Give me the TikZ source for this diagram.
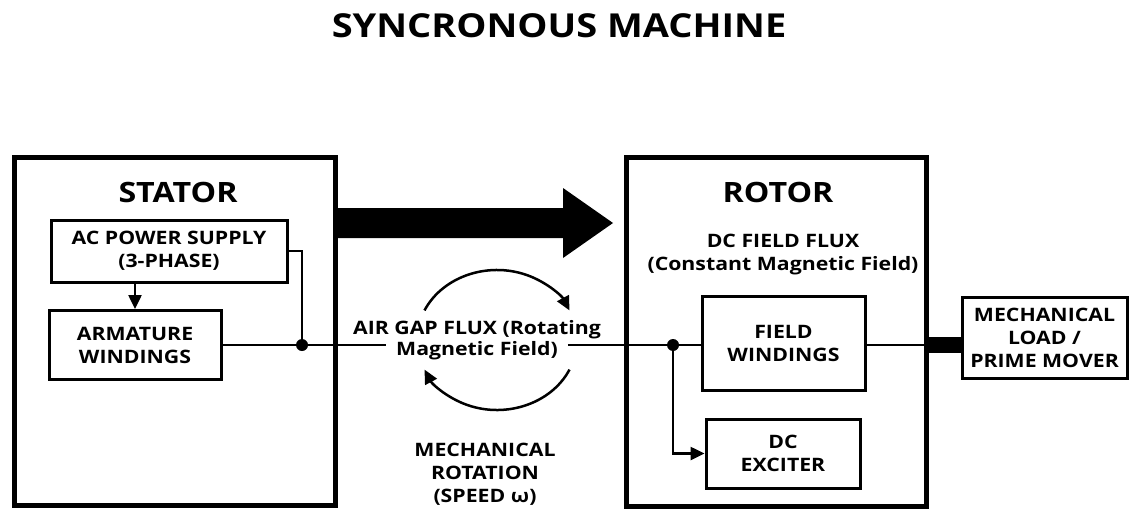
\documentclass[tikz,border=0pt]{standalone}
\usepackage{fontspec}
\setmainfont[FakeStretch=1.15]{Open Sans}
\usetikzlibrary{arrows.meta}

\begin{document}
\begin{tikzpicture}[x=1pt,y=-1pt,
  frame/.style={draw, line width=5pt, inner sep=0pt},
  block/.style={draw, line width=3pt, align=center, inner sep=0pt,
    font=\fontsize{18.5}{23}\selectfont\bfseries},
  label/.style={align=center, font=\fontsize{18.5}{23}\selectfont\bfseries},
  heading/.style={font=\fontsize{28}{32}\selectfont\bfseries},
  wire/.style={line width=2.5pt},
  tip/.style={-{Triangle[length=14pt,width=13pt]}},
  junction/.style={circle, fill=black, inner sep=0pt, minimum size=12pt}]

 \useasboundingbox (0,0) rectangle (1129,511);

 % title
 \node[font=\fontsize{33}{38}\selectfont\bfseries] (title) at (559,26) {SYNCRONOUS MACHINE};

 % stator and rotor frames
 \node[frame, minimum width=321pt, minimum height=348pt] (stator) at (174.5,331) {};
 \node[frame, minimum width=300pt, minimum height=349pt] (rotor) at (776,331.5) {};
 \node[heading] (statorlbl) at (178,192) {STATOR};
 \node[heading] (rotorlbl) at (778,192) {ROTOR};

 % blocks
 \node[block, minimum width=236pt, minimum height=62pt] (acsup) at (169,251) {AC POWER SUPPLY\\(3-PHASE)};
 \node[block, minimum width=172pt, minimum height=69pt] (armat) at (135,345) {ARMATURE\\WINDINGS};
 \node[block, minimum width=163pt, minimum height=94pt] (field) at (783.5,343) {FIELD\\WINDINGS};
 \node[block, minimum width=154pt, minimum height=69pt] (exciter) at (783,453.5) {DC\\EXCITER};
 \node[block, minimum width=165pt, minimum height=81pt] (load) at (1044.5,337.5) {MECHANICAL\\LOAD /\\PRIME MOVER};

 % texts
 \node[label] (dcflux) at (783,255) {DC FIELD FLUX\\(Constant Magnetic Field)};
 \node[label] (gapA) at (477,330) {AIR GAP FLUX (Rotating};
 \node[label, inner xsep=10pt] (gapB) at (477,351) {Magnetic Field)};
 \node[label] (mechrot) at (485,474) {MECHANICAL\\ROTATION\\(SPEED ω)};

 % junctions
 \node[junction] (jA) at (302,345) {};
 \node[junction] (jB) at (673,345) {};

 % wiring
 \draw[wire, tip] (acsup.south -| armat.north) -- (armat.north);
 \draw[wire] (acsup.east) -| (jA);
 \draw[wire] (armat.east |- jA) -- (jA);
 \draw[wire] (jA) -- (gapB.west |- jA);
 \draw[wire] (gapB.east |- jA) -- (jB);
 \draw[wire] (jB) -- (field.west |- jB);
 \draw[wire, tip] (jB) -- (jB |- exciter.west) -- (exciter.west);
 \draw[wire] (field.east |- jB) -- (rotor.east |- jB);

 % shaft
 \draw[line width=16pt] (rotor.east |- jB) -- (load.west |- jB);

 % flux arrow
 \fill (335,208) -- (563,208) -- (563,188) -- (613,223) -- (563,258) -- (563,238) -- (335,238) -- cycle;

 % rotation arrows
 \draw[wire, tip] (497,340) ++(205:80 and 70) arc[start angle=205, end angle=335, x radius=80, y radius=70];
 \draw[wire, tip] (497,340) ++(25:80 and 70) arc[start angle=25, end angle=155, x radius=80, y radius=70];
\end{tikzpicture}
\end{document}
